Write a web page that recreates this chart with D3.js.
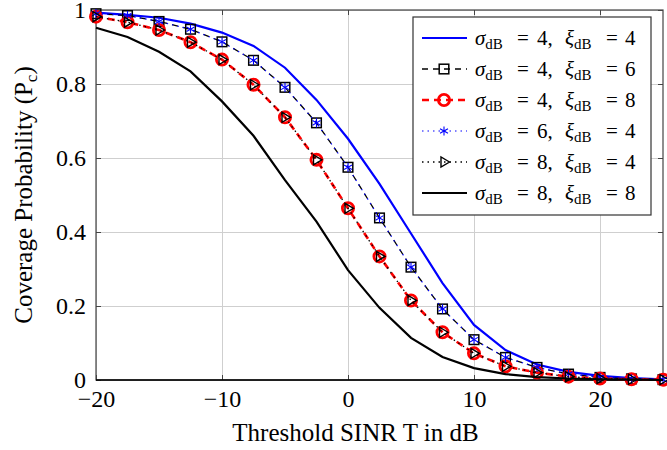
<!DOCTYPE html>
<html>
<head>
<meta charset="utf-8">
<script src="https://cdn.jsdelivr.net/npm/d3@7"></script>
<style>
  body { margin: 0; background: #fff; }
  .grid line { stroke: #cfcfcf; stroke-width: 1; }
  .grid path { display: none; }
  .ticks path { display: none; }
  .ticks line { stroke: #444; stroke-width: 1; }
  .lbl path, .lbl line { display: none; }
  svg text { font-family: 'Liberation Serif', serif; }
</style>
</head>
<body>
<svg width="667" height="450"></svg>
<script>
// threshold SINR T (dB)
const thresholds = [-20, -17.5, -15, -12.5, -10, -7.5, -5, -2.5, 0, 2.5, 5, 7.5, 10, 12.5, 15, 17.5, 20, 22.5, 25];

// coverage probability, one list per (sigma, xi) pair
const pc_s4_x4 = [0.993, 0.987, 0.979, 0.963, 0.939, 0.903, 0.844, 0.757, 0.652, 0.530, 0.396, 0.262, 0.149, 0.081, 0.042, 0.022, 0.011, 0.005, 0.002];
const pc_s4_x6 = [0.990, 0.985, 0.969, 0.948, 0.914, 0.864, 0.791, 0.695, 0.575, 0.438, 0.305, 0.192, 0.109, 0.061, 0.034, 0.016, 0.007, 0.003, 0.001];
const pc_s4_x8 = [0.982, 0.967, 0.946, 0.913, 0.866, 0.798, 0.710, 0.595, 0.464, 0.334, 0.215, 0.129, 0.072, 0.037, 0.020, 0.009, 0.004, 0.002, 0.001];
const pc_s6_x4 = [0.990, 0.985, 0.969, 0.948, 0.914, 0.864, 0.791, 0.695, 0.575, 0.438, 0.305, 0.192, 0.109, 0.061, 0.034, 0.016, 0.007, 0.003, 0.001];
const pc_s8_x4 = [0.982, 0.967, 0.946, 0.913, 0.866, 0.798, 0.710, 0.595, 0.464, 0.334, 0.215, 0.129, 0.072, 0.037, 0.020, 0.009, 0.004, 0.002, 0.001];
const pc_s8_x8 = [0.952, 0.927, 0.887, 0.834, 0.753, 0.660, 0.540, 0.428, 0.297, 0.195, 0.114, 0.062, 0.032, 0.016, 0.008, 0.004, 0.002, 0.001, 0.000];

const sigmas = [4, 4, 4, 6, 8, 8];
const xis = [4, 6, 8, 4, 4, 8];

const xTicks = [-20, -10, 0, 10, 20];
const yTicks = [0, 0.2, 0.4, 0.6, 0.8, 1];

const series = [
  { vals: pc_s4_x4, color: '#0000ff', width: 2.2, dash: null, mark: null },
  { vals: pc_s4_x6, color: '#000', width: 1.3, dash: '6,5', mark: 'square' },
  { vals: pc_s4_x8, color: '#ff0000', width: 2.6, dash: '7,5', mark: 'circle' },
  { vals: pc_s6_x4, color: '#0000ff', width: 1.1, dash: '1.5,4', mark: 'star' },
  { vals: pc_s8_x4, color: '#000', width: 1.3, dash: '1.5,4', mark: 'triangle' },
  { vals: pc_s8_x8, color: '#000', width: 2.2, dash: null, mark: null }
];

const svg = d3.select('svg');
const margin = { left: 96, right: 4, top: 10, bottom: 70 };
const width = 667 - margin.left - margin.right;
const height = 450 - margin.top - margin.bottom;

const chart = svg.append('g')
  .attr('transform', `translate(${margin.left}, ${margin.top})`);

const xScale = d3.scaleLinear().domain([-20, 25]).range([0, width]);
const yScale = d3.scaleLinear().domain([0, 1]).range([height, 0]);

// grid
chart.append('g')
  .attr('class', 'grid')
  .attr('transform', `translate(0, ${height})`)
  .call(d3.axisBottom(xScale).tickValues(xTicks).tickSize(-height).tickFormat(''));
chart.append('g')
  .attr('class', 'grid')
  .call(d3.axisLeft(yScale).tickValues(yTicks).tickSize(-width).tickFormat(''));

// inward tick marks on all four sides
chart.append('g').attr('class', 'ticks')
  .attr('transform', `translate(0, ${height})`)
  .call(d3.axisTop(xScale).tickValues(xTicks).tickSize(5).tickFormat(''));
chart.append('g').attr('class', 'ticks')
  .call(d3.axisBottom(xScale).tickValues(xTicks).tickSize(5).tickFormat(''));
chart.append('g').attr('class', 'ticks')
  .call(d3.axisRight(yScale).tickValues(yTicks).tickSize(5).tickFormat(''));
chart.append('g').attr('class', 'ticks')
  .attr('transform', `translate(${width}, 0)`)
  .call(d3.axisLeft(yScale).tickValues(yTicks).tickSize(5).tickFormat(''));

// frame
chart.append('rect')
  .attr('width', width).attr('height', height)
  .attr('fill', 'none').attr('stroke', '#444').attr('stroke-width', 1.2);
chart.append('line')
  .attr('x1', 0).attr('x2', width).attr('y1', height).attr('y2', height)
  .attr('stroke', '#000').attr('stroke-width', 1.5);

// tick labels
chart.append('g').attr('class', 'lbl')
  .attr('transform', `translate(0, ${height})`)
  .call(d3.axisBottom(xScale).tickValues(xTicks).tickSize(0).tickPadding(10)
    .tickFormat(d => d < 0 ? '\u2212' + Math.abs(d) : d))
  .attr('font-size', 24)
  .selectAll('text').attr('fill', '#000');
chart.append('g').attr('class', 'lbl')
  .call(d3.axisLeft(yScale).tickValues(yTicks).tickSize(0).tickPadding(10)
    .tickFormat(d => d))
  .attr('font-size', 24)
  .selectAll('text').attr('fill', '#000');

function drawMark(g, type, color) {
  if (type === 'square') {
    g.append('rect').attr('x', -4.8).attr('y', -4.8).attr('width', 9.6).attr('height', 9.6)
      .attr('fill', 'none').attr('stroke', color).attr('stroke-width', 1.5);
  } else if (type === 'circle') {
    g.append('circle').attr('r', 5.6)
      .attr('fill', 'none').attr('stroke', color).attr('stroke-width', 2.8);
  } else if (type === 'star') {
    [90, 30, 150].forEach(a => {
      const r = 4.6, t = a * Math.PI / 180;
      g.append('line')
        .attr('x1', -r * Math.cos(t)).attr('y1', -r * Math.sin(t))
        .attr('x2', r * Math.cos(t)).attr('y2', r * Math.sin(t))
        .attr('stroke', color).attr('stroke-width', 1.1);
    });
  } else if (type === 'triangle') {
    g.append('path').attr('d', 'M5.5,0 L-3,-5 L-3,5 Z')
      .attr('fill', 'none').attr('stroke', color).attr('stroke-width', 1.4);
  }
}

const line = d3.line()
  .x((d, i) => xScale(thresholds[i]))
  .y(d => yScale(d));

series.forEach(s => {
  chart.append('path')
    .datum(s.vals)
    .attr('d', line)
    .attr('fill', 'none')
    .attr('stroke', s.color)
    .attr('stroke-width', s.width)
    .attr('stroke-dasharray', s.dash);
  if (s.mark) {
    chart.selectAll(null)
      .data(s.vals)
      .enter()
      .append('g')
      .attr('transform', (d, i) => `translate(${xScale(thresholds[i])}, ${yScale(d)})`)
      .each(function () { drawMark(d3.select(this), s.mark, s.color); });
  }
});

// legend
const legend = svg.append('g').attr('transform', 'translate(413, 17)');
legend.append('rect')
  .attr('width', 238).attr('height', 198)
  .attr('fill', '#fff').attr('stroke', '#333').attr('stroke-width', 1.2);

series.forEach((s, i) => {
  const y = 21 + i * 31;
  const row = legend.append('g').attr('transform', `translate(0, ${y})`);
  row.append('line')
    .attr('x1', 9).attr('x2', 54)
    .attr('stroke', s.color).attr('stroke-width', s.width)
    .attr('stroke-dasharray', s.dash);
  if (s.mark) drawMark(row.append('g').attr('transform', 'translate(31, 0)'), s.mark, s.color);
  const t = row.append('text')
    .attr('y', 7)
    .attr('font-size', 21);
  t.append('tspan').attr('x', 62).attr('font-style', 'italic').text('\u03c3');
  t.append('tspan').attr('font-size', 15).attr('dy', 4).text('dB');
  t.append('tspan').attr('x', 104).attr('dy', -4).text('=');
  t.append('tspan').attr('x', 124).text(`${sigmas[i]},`);
  t.append('tspan').attr('x', 152).attr('font-style', 'italic').text('\u03be');
  t.append('tspan').attr('font-size', 15).attr('dy', 4).text('dB');
  t.append('tspan').attr('x', 193).attr('dy', -4).text('=');
  t.append('tspan').attr('x', 212).text(`${xis[i]}`);
});

// axis labels
svg.append('text')
  .attr('x', margin.left + width / 2 - 24)
  .attr('y', 441)
  .attr('text-anchor', 'middle')
  .attr('font-size', 25)
  .text('Threshold SINR T in dB');

const yl = svg.append('text')
  .attr('transform', `translate(32, ${margin.top + height / 2}) rotate(-90)`)
  .attr('text-anchor', 'middle')
  .attr('font-size', 25);
yl.append('tspan').text('Coverage Probability (P');
yl.append('tspan').attr('font-size', 17).attr('dy', 5).text('c');
yl.append('tspan').attr('dy', -5).text(')');
</script>
</body>
</html>
